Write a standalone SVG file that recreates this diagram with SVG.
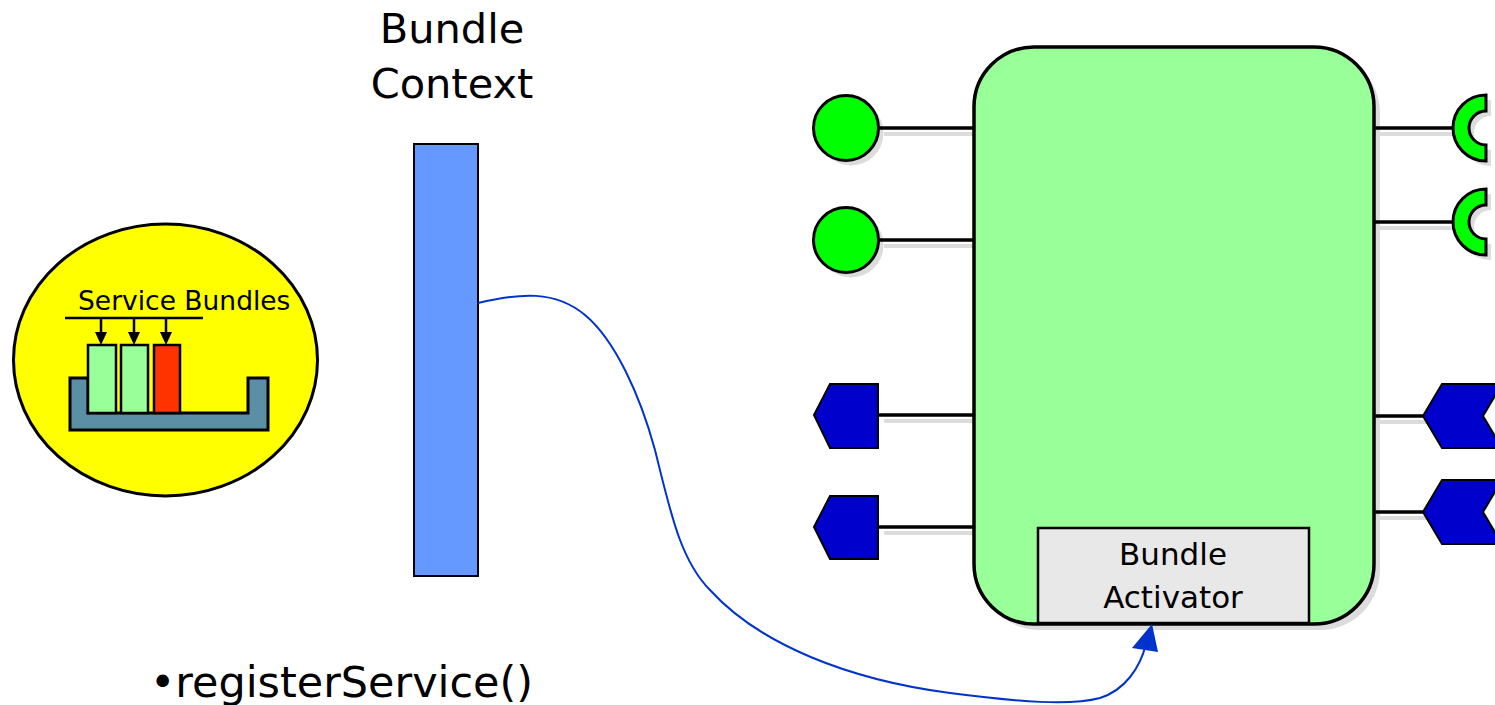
<svg xmlns="http://www.w3.org/2000/svg" width="1495" height="705" viewBox="0 0 1495 705">
  <style>
    .lbl { font-family: "DejaVu Sans", Verdana, sans-serif; fill: #000; }
    .ol { stroke: #000; stroke-width: 3; }
    .wire { stroke: #000; stroke-width: 3.5; fill: none; }
    .shadow { fill: #dcdcdc; stroke: none; }
    .shline { stroke: #dcdcdc; stroke-width: 4; fill: none; }
    .svc { fill: #00ff00; }
    .ref { fill: #0000cc; stroke: #000; stroke-width: 2; }
  </style>
  <rect width="1495" height="705" fill="#fff"/>

  <!-- framework registry -->
  <g id="service-registry">
    <ellipse cx="165.5" cy="360" rx="152" ry="136" fill="#ffff00" stroke="#000" stroke-width="3"/>
    <text class="lbl" x="78" y="310" font-size="26.5">Service Bundles</text>
    <line x1="65" y1="318" x2="203" y2="318" stroke="#000" stroke-width="2.5"/>
    <g stroke="#000" stroke-width="2.5">
      <line x1="101" y1="318" x2="101" y2="334"/>
      <line x1="134" y1="318" x2="134" y2="334"/>
      <line x1="166" y1="318" x2="166" y2="334"/>
    </g>
    <g fill="#000">
      <polygon points="95,332 107,332 101,345"/>
      <polygon points="128,332 140,332 134,345"/>
      <polygon points="160,332 172,332 166,345"/>
    </g>
    <polygon points="70,378 88,378 88,413 248,413 248,378 268,378 268,430 70,430" fill="#5b8fa6" stroke="#000" stroke-width="3"/>
    <rect x="88" y="345" width="28" height="68" fill="#99ff99" stroke="#000" stroke-width="2.5"/>
    <rect x="121" y="345" width="27" height="68" fill="#99ff99" stroke="#000" stroke-width="2.5"/>
    <rect x="154" y="345" width="26" height="68" fill="#ff3300" stroke="#000" stroke-width="2.5"/>
  </g>

  <!-- bundle context -->
  <g id="bundle-context">
    <text class="lbl" x="452" y="43" font-size="41.5" text-anchor="middle">Bundle</text>
    <text class="lbl" x="452" y="98" font-size="41.5" text-anchor="middle">Context</text>
    <rect x="414" y="144" width="64" height="432" fill="#6699ff" stroke="#000" stroke-width="2"/>
  </g>

  <!-- bundle body with its ports -->
  <g id="bundle">
    <rect x="980" y="53" width="400" height="577" rx="60" ry="60" class="shadow"/>
    <!-- wire shadows -->
    <g class="shline">
      <line x1="884" y1="134" x2="974" y2="134"/>
      <line x1="884" y1="246" x2="974" y2="246"/>
      <line x1="884" y1="421" x2="974" y2="421"/>
      <line x1="884" y1="533" x2="974" y2="533"/>
      <line x1="1380" y1="134" x2="1458" y2="134"/>
      <line x1="1380" y1="228" x2="1458" y2="228"/>
      <line x1="1380" y1="422" x2="1428" y2="422"/>
      <line x1="1380" y1="518" x2="1428" y2="518"/>
    </g>
    <rect x="974" y="47" width="400" height="577" rx="60" ry="60" fill="#99ff99" stroke="#000" stroke-width="3.5"/>
  </g>

  <g id="activator">
    <rect x="1038" y="528" width="271" height="95" fill="#e8e8e8" stroke="#000" stroke-width="2.5"/>
    <text class="lbl" x="1173" y="565" font-size="31" text-anchor="middle">Bundle</text>
    <text class="lbl" x="1173" y="608" font-size="31" text-anchor="middle">Activator</text>
  </g>

  <!-- provided services -->
  <g id="service-1">
    <circle cx="851" cy="133" r="32.5" class="shadow"/>
    <line x1="878" y1="128" x2="974" y2="128" class="wire"/>
    <circle cx="846" cy="128" r="32.5" class="svc ol"/>
  </g>
  <g id="service-2">
    <circle cx="851" cy="245" r="32.5" class="shadow"/>
    <line x1="878" y1="240" x2="974" y2="240" class="wire"/>
    <circle cx="846" cy="240" r="32.5" class="svc ol"/>
  </g>

  <!-- exported packages -->
  <g id="export-1">
    <line x1="878" y1="415" x2="974" y2="415" class="wire"/>
    <polygon points="814,415 830,384 878,384 878,448 830,448" class="ref"/>
  </g>
  <g id="export-2">
    <line x1="878" y1="527" x2="974" y2="527" class="wire"/>
    <polygon points="814,527 830,496 878,496 878,559 830,559" class="ref"/>
  </g>

  <!-- required services -->
  <g id="require-1">
    <path d="M1491,100 A33,33 0 0 0 1491,166 L1491,150 A17,17 0 0 1 1491,116 Z" class="shadow"/>
    <line x1="1374" y1="128" x2="1456" y2="128" class="wire"/>
    <path d="M1486,95 A33,33 0 0 0 1486,161 L1486,145 A17,17 0 0 1 1486,111 Z" class="svc ol"/>
  </g>
  <g id="require-2">
    <path d="M1491,194 A33,33 0 0 0 1491,260 L1491,244 A17,17 0 0 1 1491,210 Z" class="shadow"/>
    <line x1="1374" y1="222" x2="1456" y2="222" class="wire"/>
    <path d="M1486,189 A33,33 0 0 0 1486,255 L1486,239 A17,17 0 0 1 1486,205 Z" class="svc ol"/>
  </g>

  <!-- imported packages -->
  <g id="import-1">
    <line x1="1374" y1="416" x2="1424" y2="416" class="wire"/>
    <polygon points="1423,416 1442,384 1502,384 1483,416 1502,448 1442,448" class="ref"/>
  </g>
  <g id="import-2">
    <line x1="1374" y1="512" x2="1424" y2="512" class="wire"/>
    <polygon points="1423,512 1442,480 1502,480 1483,512 1502,544 1442,544" class="ref"/>
  </g>

  <!-- registration call -->
  <g id="connectors">
    <path d="M478,303 C520,293 555,290 585,315 C615,340 640,395 655,450 C670,510 680,560 710,590 C760,645 850,680 950,693 C1020,702 1070,706 1100,698 C1125,690 1140,668 1146,644" fill="none" stroke="#0033cc" stroke-width="2"/>
    <polygon points="1152,624 1132,648 1158,652" fill="#0033cc"/>
  </g>

  <text class="lbl" x="150" y="697" font-size="42" textLength="383" lengthAdjust="spacingAndGlyphs">•registerService()</text>
</svg>
